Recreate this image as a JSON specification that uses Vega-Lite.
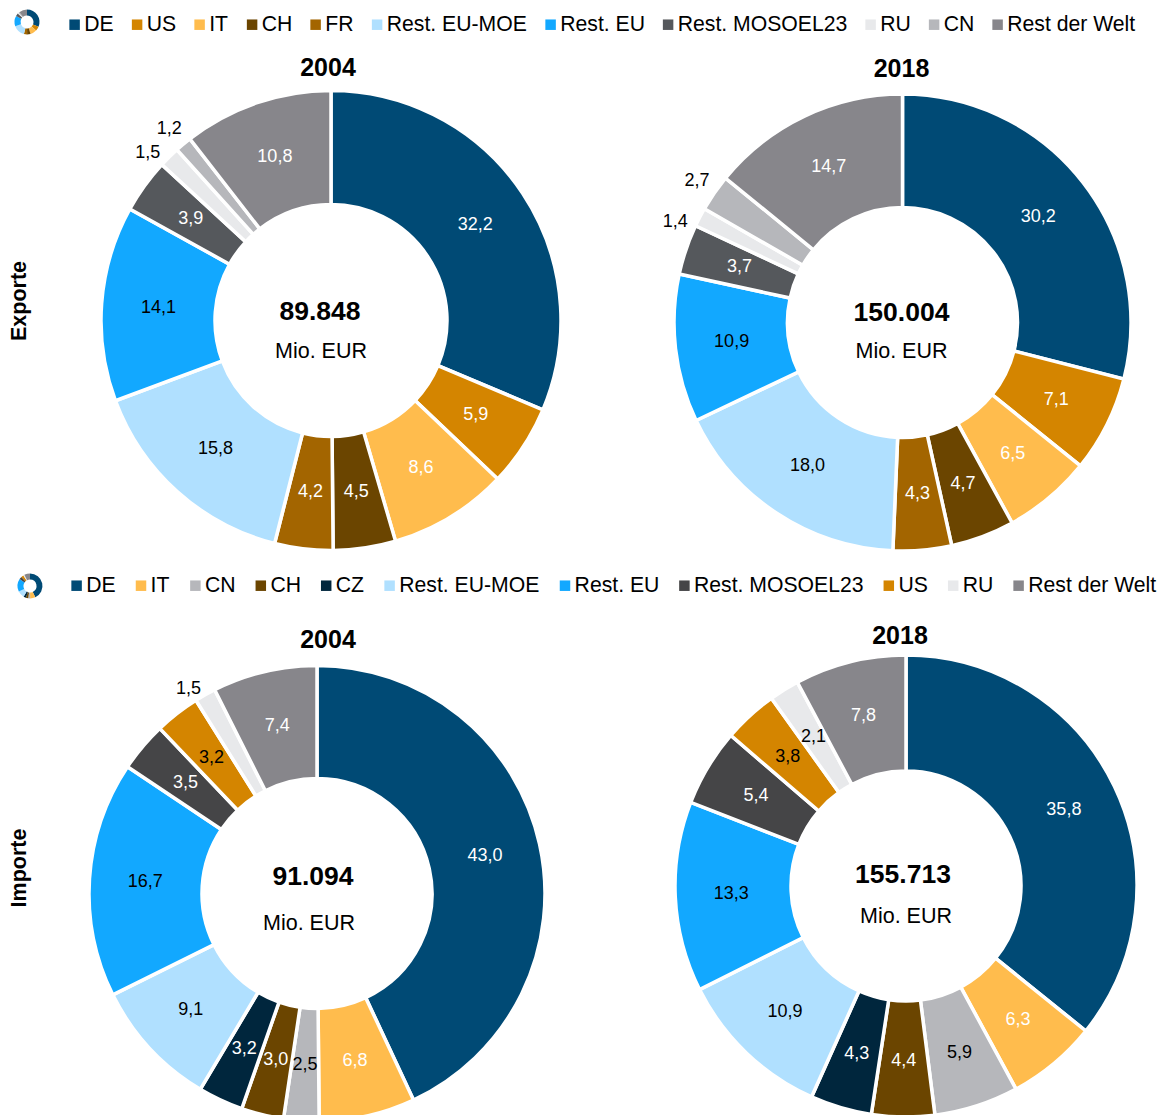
{
"$schema":"https://vega.github.io/schema/vega-lite/v6.json",
"padding":{"left":0,"top":9.5,"right":0,"bottom":0},
"config":{"view":{"stroke":null},"font":"Liberation Sans","title":{"font":"Liberation Sans","fontSize":25,"fontWeight":"bold","color":"#000000"}},
"datasets":{
"rows":[
{"flow":"Exporte","year":"2004","region":"DE","value":32.2,"label":"32,2","rank":1},
{"flow":"Exporte","year":"2004","region":"US","value":5.9,"label":"5,9","rank":2},
{"flow":"Exporte","year":"2004","region":"IT","value":8.6,"label":"8,6","rank":3},
{"flow":"Exporte","year":"2004","region":"CH","value":4.5,"label":"4,5","rank":4},
{"flow":"Exporte","year":"2004","region":"FR","value":4.2,"label":"4,2","rank":5},
{"flow":"Exporte","year":"2004","region":"Rest. EU-MOE","value":15.8,"label":"15,8","rank":6},
{"flow":"Exporte","year":"2004","region":"Rest. EU","value":14.1,"label":"14,1","rank":7},
{"flow":"Exporte","year":"2004","region":"Rest. MOSOEL23","value":3.9,"label":"3,9","rank":8},
{"flow":"Exporte","year":"2004","region":"RU","value":1.5,"label":"1,5","rank":9},
{"flow":"Exporte","year":"2004","region":"CN","value":1.2,"label":"1,2","rank":10},
{"flow":"Exporte","year":"2004","region":"Rest der Welt","value":10.8,"label":"10,8","rank":11},
{"flow":"Exporte","year":"2018","region":"DE","value":30.2,"label":"30,2","rank":1},
{"flow":"Exporte","year":"2018","region":"US","value":7.1,"label":"7,1","rank":2},
{"flow":"Exporte","year":"2018","region":"IT","value":6.5,"label":"6,5","rank":3},
{"flow":"Exporte","year":"2018","region":"CH","value":4.7,"label":"4,7","rank":4},
{"flow":"Exporte","year":"2018","region":"FR","value":4.3,"label":"4,3","rank":5},
{"flow":"Exporte","year":"2018","region":"Rest. EU-MOE","value":18.0,"label":"18,0","rank":6},
{"flow":"Exporte","year":"2018","region":"Rest. EU","value":10.9,"label":"10,9","rank":7},
{"flow":"Exporte","year":"2018","region":"Rest. MOSOEL23","value":3.7,"label":"3,7","rank":8},
{"flow":"Exporte","year":"2018","region":"RU","value":1.4,"label":"1,4","rank":9},
{"flow":"Exporte","year":"2018","region":"CN","value":2.7,"label":"2,7","rank":10},
{"flow":"Exporte","year":"2018","region":"Rest der Welt","value":14.7,"label":"14,7","rank":11},
{"flow":"Importe","year":"2004","region":"DE","value":43.0,"label":"43,0","rank":1},
{"flow":"Importe","year":"2004","region":"IT","value":6.8,"label":"6,8","rank":2},
{"flow":"Importe","year":"2004","region":"CN","value":2.5,"label":"2,5","rank":3},
{"flow":"Importe","year":"2004","region":"CH","value":3.0,"label":"3,0","rank":4},
{"flow":"Importe","year":"2004","region":"CZ","value":3.2,"label":"3,2","rank":5},
{"flow":"Importe","year":"2004","region":"Rest. EU-MOE","value":9.1,"label":"9,1","rank":6},
{"flow":"Importe","year":"2004","region":"Rest. EU","value":16.7,"label":"16,7","rank":7},
{"flow":"Importe","year":"2004","region":"Rest. MOSOEL23","value":3.5,"label":"3,5","rank":8},
{"flow":"Importe","year":"2004","region":"US","value":3.2,"label":"3,2","rank":9},
{"flow":"Importe","year":"2004","region":"RU","value":1.5,"label":"1,5","rank":10},
{"flow":"Importe","year":"2004","region":"Rest der Welt","value":7.4,"label":"7,4","rank":11},
{"flow":"Importe","year":"2018","region":"DE","value":35.8,"label":"35,8","rank":1},
{"flow":"Importe","year":"2018","region":"IT","value":6.3,"label":"6,3","rank":2},
{"flow":"Importe","year":"2018","region":"CN","value":5.9,"label":"5,9","rank":3},
{"flow":"Importe","year":"2018","region":"CH","value":4.4,"label":"4,4","rank":4},
{"flow":"Importe","year":"2018","region":"CZ","value":4.3,"label":"4,3","rank":5},
{"flow":"Importe","year":"2018","region":"Rest. EU-MOE","value":10.9,"label":"10,9","rank":6},
{"flow":"Importe","year":"2018","region":"Rest. EU","value":13.3,"label":"13,3","rank":7},
{"flow":"Importe","year":"2018","region":"Rest. MOSOEL23","value":5.4,"label":"5,4","rank":8},
{"flow":"Importe","year":"2018","region":"US","value":3.8,"label":"3,8","rank":9},
{"flow":"Importe","year":"2018","region":"RU","value":2.1,"label":"2,1","rank":10},
{"flow":"Importe","year":"2018","region":"Rest der Welt","value":7.8,"label":"7,8","rank":11}
]},
"spacing":0,
"resolve":{"scale":{"color":"independent","theta":"independent"},"legend":{"color":"independent"}},
"vconcat":[
 {"width":54,"height":25,"data":{"name":"rows"},"transform":[{"filter":"datum.flow=='Exporte' && datum.year=='2004'"}],
  "mark":{"type":"arc","radius":12.5,"radius2":6.5},
  "encoding":{"theta":{"field":"value","type":"quantitative","stack":true},"order":{"field":"rank"},
   "color":{"field":"region","type":"nominal","scale":{"domain":["DE","US","IT","CH","FR","Rest. EU-MOE","Rest. EU","Rest. MOSOEL23","RU","CN","Rest der Welt"],"range":["#004A75","#D48500","#FFBC4D","#6B4500","#A36500","#B0E0FF","#12A8FF","#55585C","#E8E9EB","#B6B7BB","#87868B"]},
    "legend":{"orient":"none","legendX":64,"legendY":4.5,"direction":"horizontal","columns":11,"title":null,"symbolType":"square","symbolSize":110,"symbolStrokeWidth":0,"labelFont":"Liberation Sans","labelFontSize":21.2,"labelColor":"#000000","labelOffset":-1,"columnPadding":12.5,"padding":0,"labelLimit":300}}}},
 {"width":1,"height":19.5,"data":{"values":[{"blank":""}]},"mark":{"type":"text"},"encoding":{"text":{"field":"blank"}}},
 {"spacing":0,"bounds":"flush",
  "resolve":{"scale":{"color":"independent","theta":"independent"},"legend":{"color":"independent"}},
  "hconcat":[
  {"width":40,"height":425,"data":{"values":[{"flow":"Exporte"}]},"mark":{"type":"text","angle":270,"font":"Liberation Sans","fontSize":21.5,"fontWeight":"bold","color":"#000000","align":"center","baseline":"middle"},"encoding":{"text":{"field":"flow"}}},
   {"width":582,"height":464,"title":{"text":"2004","dx":-3,"offset":2.5},"layer":[
    {"data":{"name":"rows"},"transform":[{"filter":"datum.flow=='Exporte' && datum.year=='2004'"}],"layer":[
     {"mark":{"type":"arc","radius":230,"radius2":116,"stroke":"#ffffff","strokeWidth":3.5},
      "encoding":{"theta":{"field":"value","type":"quantitative","stack":true},"order":{"field":"rank"},
       "color":{"field":"region","type":"nominal","legend":null,"scale":{"domain":["DE","US","IT","CH","FR","Rest. EU-MOE","Rest. EU","Rest. MOSOEL23","RU","CN","Rest der Welt"],"range":["#004A75","#D48500","#FFBC4D","#6B4500","#A36500","#B0E0FF","#12A8FF","#55585C","#E8E9EB","#B6B7BB","#87868B"]}}}},
     {"mark":{"type":"text","radius":173,"fontSize":18,"font":"Liberation Sans"},
      "encoding":{"theta":{"field":"value","type":"quantitative","stack":true},"order":{"field":"rank"},
       "text":{"condition":{"test":"datum.region=='RU'||datum.region=='CN'","value":""},"field":"label"},
       "color":{"condition":{"test":"indexof(['Rest. EU-MOE','Rest. EU','RU','CN'],datum.region)>=0","value":"#000000"},"value":"#ffffff"}}},
     {"transform":[{"stack":"value","sort":[{"field":"rank"}],"as":["a0","a1"]},{"filter":"datum.region=='RU'"}],
      "mark":{"type":"text","radius":252,"fontSize":18,"font":"Liberation Sans","color":"#000000","dx":2,"dy":3},
      "encoding":{"theta":{"field":"a0","type":"quantitative"},"theta2":{"field":"a1"},"text":{"field":"label"}}},
     {"transform":[{"stack":"value","sort":[{"field":"rank"}],"as":["a0","a1"]},{"filter":"datum.region=='CN'"}],
      "mark":{"type":"text","radius":252,"fontSize":18,"font":"Liberation Sans","color":"#000000","dx":7,"dy":-4},
      "encoding":{"theta":{"field":"a0","type":"quantitative"},"theta2":{"field":"a1"},"text":{"field":"label"}}}
    ]},
    {"data":{"values":[{"total":"89.848","unit":"Mio. EUR"}]},"layer":[
     {"mark":{"type":"text","fontSize":26.5,"fontWeight":"bold","font":"Liberation Sans","color":"#000000","dx":-11,"dy":-9},"encoding":{"text":{"field":"total"}}},
     {"mark":{"type":"text","fontSize":21.5,"font":"Liberation Sans","color":"#000000","dx":-10,"dy":31},"encoding":{"text":{"field":"unit"}}}
    ]}
   ]},
   {"width":15,"height":10,"data":{"values":[{"blank":""}]},"mark":{"type":"text"},"encoding":{"text":{"field":"blank"}}},
   {"width":531,"height":468,"title":{"text":"2018","dx":-1,"offset":5.5},"layer":[
    {"data":{"name":"rows"},"transform":[{"filter":"datum.flow=='Exporte' && datum.year=='2018'"}],"layer":[
     {"mark":{"type":"arc","radius":228.5,"radius2":115,"stroke":"#ffffff","strokeWidth":3.5},
      "encoding":{"theta":{"field":"value","type":"quantitative","stack":true},"order":{"field":"rank"},
       "color":{"field":"region","type":"nominal","legend":null,"scale":{"domain":["DE","US","IT","CH","FR","Rest. EU-MOE","Rest. EU","Rest. MOSOEL23","RU","CN","Rest der Welt"],"range":["#004A75","#D48500","#FFBC4D","#6B4500","#A36500","#B0E0FF","#12A8FF","#55585C","#E8E9EB","#B6B7BB","#87868B"]}}}},
     {"mark":{"type":"text","radius":172,"fontSize":18,"font":"Liberation Sans"},
      "encoding":{"theta":{"field":"value","type":"quantitative","stack":true},"order":{"field":"rank"},
       "text":{"condition":{"test":"datum.region=='RU'||datum.region=='CN'","value":""},"field":"label"},
       "color":{"condition":{"test":"indexof(['Rest. EU-MOE','Rest. EU','RU','CN'],datum.region)>=0","value":"#000000"},"value":"#ffffff"}}},
     {"transform":[{"stack":"value","sort":[{"field":"rank"}],"as":["a0","a1"]},{"filter":"datum.region=='RU'"}],
      "mark":{"type":"text","radius":252,"fontSize":18,"font":"Liberation Sans","color":"#000000","dx":1,"dy":6},
      "encoding":{"theta":{"field":"a0","type":"quantitative"},"theta2":{"field":"a1"},"text":{"field":"label"}}},
     {"transform":[{"stack":"value","sort":[{"field":"rank"}],"as":["a0","a1"]},{"filter":"datum.region=='CN'"}],
      "mark":{"type":"text","radius":252,"fontSize":18,"font":"Liberation Sans","color":"#000000","dx":13,"dy":-16},
      "encoding":{"theta":{"field":"a0","type":"quantitative"},"theta2":{"field":"a1"},"text":{"field":"label"}}}
    ]},
    {"data":{"values":[{"total":"150.004","unit":"Mio. EUR"}]},"layer":[
     {"mark":{"type":"text","fontSize":26.5,"fontWeight":"bold","font":"Liberation Sans","color":"#000000","dx":-1,"dy":-10},"encoding":{"text":{"field":"total"}}},
     {"mark":{"type":"text","fontSize":21.5,"font":"Liberation Sans","color":"#000000","dx":-1,"dy":29},"encoding":{"text":{"field":"unit"}}}
    ]}
   ]}
 ]},
 {"width":1,"height":15,"data":{"values":[{"blank":""}]},"mark":{"type":"text"},"encoding":{"text":{"field":"blank"}}},
 {"width":60,"height":25,"data":{"name":"rows"},"transform":[{"filter":"datum.flow=='Importe' && datum.year=='2004'"}],
  "mark":{"type":"arc","radius":12.5,"radius2":6.5},
  "encoding":{"theta":{"field":"value","type":"quantitative","stack":true},"order":{"field":"rank"},
   "color":{"field":"region","type":"nominal","scale":{"domain":["DE","IT","CN","CH","CZ","Rest. EU-MOE","Rest. EU","Rest. MOSOEL23","US","RU","Rest der Welt"],"range":["#004A75","#FFBC4D","#B6B7BB","#6B4500","#00263D","#B0E0FF","#12A8FF","#454547","#D48500","#E8E9EB","#87868B"]},
    "legend":{"orient":"none","legendX":66,"legendY":1.5,"direction":"horizontal","columns":11,"title":null,"symbolType":"square","symbolSize":110,"symbolStrokeWidth":0,"labelFont":"Liberation Sans","labelFontSize":21.2,"labelColor":"#000000","labelOffset":-1,"columnPadding":14.4,"padding":0,"labelLimit":300}}}},
 {"width":1,"height":24.5,"data":{"values":[{"blank":""}]},"mark":{"type":"text"},"encoding":{"text":{"field":"blank"}}},
 {"spacing":0,"bounds":"flush",
  "resolve":{"scale":{"color":"independent","theta":"independent"},"legend":{"color":"independent"}},
  "hconcat":[
  {"width":40,"height":433,"data":{"values":[{"flow":"Importe"}]},"mark":{"type":"text","angle":270,"font":"Liberation Sans","fontSize":21.5,"fontWeight":"bold","color":"#000000","align":"center","baseline":"middle"},"encoding":{"text":{"field":"flow"}}},
   {"width":554,"height":484,"title":{"text":"2004","dx":11,"offset":-1.5},"layer":[
    {"data":{"name":"rows"},"transform":[{"filter":"datum.flow=='Importe' && datum.year=='2004'"}],"layer":[
     {"mark":{"type":"arc","radius":228,"radius2":115,"stroke":"#ffffff","strokeWidth":3.5},
      "encoding":{"theta":{"field":"value","type":"quantitative","stack":true},"order":{"field":"rank"},
       "color":{"field":"region","type":"nominal","legend":null,"scale":{"domain":["DE","IT","CN","CH","CZ","Rest. EU-MOE","Rest. EU","Rest. MOSOEL23","US","RU","Rest der Welt"],"range":["#004A75","#FFBC4D","#B6B7BB","#6B4500","#00263D","#B0E0FF","#12A8FF","#454547","#D48500","#E8E9EB","#87868B"]}}}},
     {"mark":{"type":"text","radius":172,"fontSize":18,"font":"Liberation Sans"},
      "encoding":{"theta":{"field":"value","type":"quantitative","stack":true},"order":{"field":"rank"},
       "text":{"condition":{"test":"datum.region=='RU'","value":""},"field":"label"},
       "color":{"condition":{"test":"indexof(['Rest. EU-MOE','Rest. EU','RU','CN','US'],datum.region)>=0","value":"#000000"},"value":"#ffffff"}}},
     {"transform":[{"stack":"value","sort":[{"field":"rank"}],"as":["a0","a1"]},{"filter":"datum.region=='RU'"}],
      "mark":{"type":"text","radius":244,"fontSize":18,"font":"Liberation Sans","color":"#000000","dx":1,"dy":2},
      "encoding":{"theta":{"field":"a0","type":"quantitative"},"theta2":{"field":"a1"},"text":{"field":"label"}}}
    ]},
    {"data":{"values":[{"total":"91.094","unit":"Mio. EUR"}]},"layer":[
     {"mark":{"type":"text","fontSize":26.5,"fontWeight":"bold","font":"Liberation Sans","color":"#000000","dx":-4,"dy":-17},"encoding":{"text":{"field":"total"}}},
     {"mark":{"type":"text","fontSize":21.5,"font":"Liberation Sans","color":"#000000","dx":-8,"dy":30},"encoding":{"text":{"field":"unit"}}}
    ]}
   ]},
   {"width":50,"height":10,"data":{"values":[{"blank":""}]},"mark":{"type":"text"},"encoding":{"text":{"field":"blank"}}},
   {"width":524,"height":469,"title":{"text":"2018","dx":-6,"offset":-0.5},"layer":[
    {"data":{"name":"rows"},"transform":[{"filter":"datum.flow=='Importe' && datum.year=='2018'"}],"layer":[
     {"mark":{"type":"arc","radius":231,"radius2":115,"stroke":"#ffffff","strokeWidth":3.5},
      "encoding":{"theta":{"field":"value","type":"quantitative","stack":true},"order":{"field":"rank"},
       "color":{"field":"region","type":"nominal","legend":null,"scale":{"domain":["DE","IT","CN","CH","CZ","Rest. EU-MOE","Rest. EU","Rest. MOSOEL23","US","RU","Rest der Welt"],"range":["#004A75","#FFBC4D","#B6B7BB","#6B4500","#00263D","#B0E0FF","#12A8FF","#454547","#D48500","#E8E9EB","#87868B"]}}}},
     {"mark":{"type":"text","radius":175,"fontSize":18,"font":"Liberation Sans"},
      "encoding":{"theta":{"field":"value","type":"quantitative","stack":true},"order":{"field":"rank"},
       "text":{"field":"label"},
       "color":{"condition":{"test":"indexof(['Rest. EU-MOE','Rest. EU','RU','CN','US'],datum.region)>=0","value":"#000000"},"value":"#ffffff"}}}
    ]},
    {"data":{"values":[{"total":"155.713","unit":"Mio. EUR"}]},"layer":[
     {"mark":{"type":"text","fontSize":26.5,"fontWeight":"bold","font":"Liberation Sans","color":"#000000","dx":-3,"dy":-11},"encoding":{"text":{"field":"total"}}},
     {"mark":{"type":"text","fontSize":21.5,"font":"Liberation Sans","color":"#000000","dx":0,"dy":31},"encoding":{"text":{"field":"unit"}}}
    ]}
   ]}
 ]}
]
}
